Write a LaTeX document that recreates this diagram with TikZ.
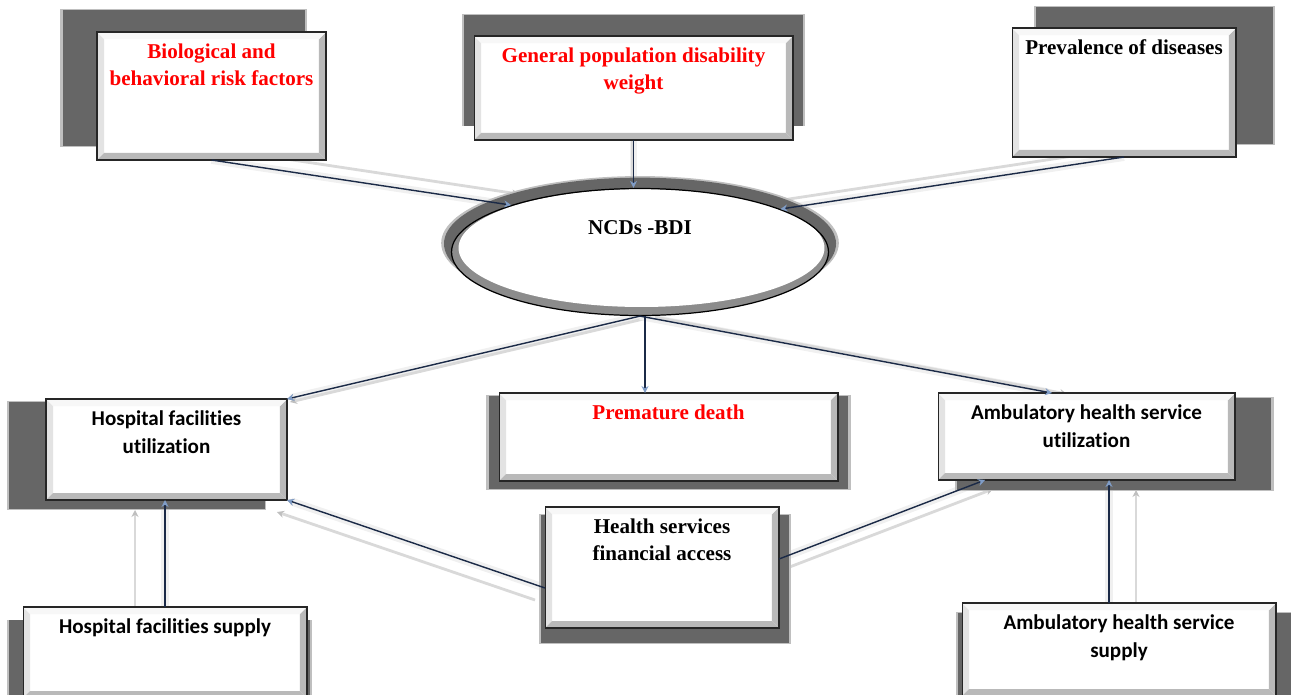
\documentclass[tikz,border=0pt]{standalone}
\usepackage{fontspec}
\setmainfont{Liberation Serif}
\newfontfamily\calfont[Ligatures=NoCommon]{Carlito}
\usetikzlibrary{shapes.geometric,shadows,arrows.meta,calc}

\definecolor{linknavy}{HTML}{1B2A47}
\definecolor{tipblue}{HTML}{7F9CC6}
\definecolor{rimgray}{HTML}{8C8C8C}

\pgfdeclarelayer{back}
\pgfsetlayers{back,main}

% top aligned text inside a box of fixed size
\newcommand{\boxtext}[3]{\parbox[c][#2][t]{#1}{\centering\vspace*{6.5pt}#3}}

\tikzset{
  bevelbox/.style={rectangle, draw=black!85, line width=0.6pt, fill=white,
    inner sep=0pt, outer sep=0pt,
    path picture={
      \coordinate (pnw) at (path picture bounding box.north west);
      \coordinate (pne) at (path picture bounding box.north east);
      \coordinate (psw) at (path picture bounding box.south west);
      \coordinate (pse) at (path picture bounding box.south east);
      \fill[gray!22] (pnw) -- (psw) -- ($(psw)+(0.14cm,0.14cm)$) -- ($(pnw)+(0.14cm,-0.14cm)$) -- cycle;
      \fill[gray!55] (pne) -- (pse) -- ($(pse)+(-0.14cm,0.14cm)$) -- ($(pne)+(-0.14cm,-0.14cm)$) -- cycle;
      \fill[gray!55] (psw) -- (pse) -- ($(pse)+(-0.14cm,0.14cm)$) -- ($(psw)+(0.14cm,0.14cm)$) -- cycle;
      \fill[gray!6] (pnw) -- (pne) -- ($(pne)+(-0.14cm,-0.14cm)$) -- ($(pnw)+(0.14cm,-0.14cm)$) -- cycle;
    }},
  boxshadow/.style 2 args={
    general shadow={shadow xshift=#1, shadow yshift=#2, shadow scale=1.075, fill=black!25},
    general shadow={shadow xshift=#1, shadow yshift=#2, shadow scale=1.06, fill=black!60}},
  serifred/.style={font=\bfseries\fontsize{12}{15.5}\selectfont, text=red},
  seriftxt/.style={font=\bfseries\fontsize{12}{15.5}\selectfont},
  caltxt/.style={font=\calfont\bfseries\fontsize{12}{16}\selectfont},
  link/.style={draw=linknavy, line width=0.8pt, -{Stealth[length=4pt,width=4pt,color=tipblue]}},
  glow/.style={draw=gray!30, line width=1.6pt, preaction={draw=gray!12, line width=4.5pt},
    -{Stealth[length=4pt,width=4pt,color=gray!50]}},
}

\begin{document}
\begin{tikzpicture}[x=0.02cm, y=-0.02cm]
\useasboundingbox (0,0) rectangle (1291,694);

% top row
\node[bevelbox, boxshadow={-0.52cm}{0.34cm}, serifred] (bio) at (211.5,96)
  {\boxtext{4.58cm}{2.56cm}{Biological and\\behavioral risk factors}};
\node[bevelbox, boxshadow={0cm}{0.33cm}, serifred] (gen) at (633.5,88)
  {\boxtext{6.38cm}{2.08cm}{General population disability\\weight}};
\node[bevelbox, boxshadow={0.57cm}{0.32cm}, seriftxt] (prev) at (1124,92.5)
  {\boxtext{4.48cm}{2.58cm}{Prevalence of diseases}};

% index
\node[ellipse, draw=black, line width=0.7pt, fill=rimgray, inner sep=0pt,
  minimum width=7.54cm, minimum height=2.54cm,
  general shadow={shadow yshift=0.17cm, shadow scale=1.055, fill=black!25},
  general shadow={shadow yshift=0.16cm, shadow scale=1.04, fill=black!60},
  path picture={\fill[white] ([shift={(0.03cm,0.08cm)}]path picture bounding box.center)
    ellipse [x radius=3.66cm, y radius=1.18cm];},
  seriftxt] (ncd) at (640,252) {\smash{\raisebox{0.36cm}{NCDs -BDI}}};

% middle row
\node[bevelbox, boxshadow={-0.56cm}{-0.11cm}, caltxt] (hospU) at (166.5,449.5)
  {\boxtext{4.82cm}{2.02cm}{Hospital facilities\\utilization}};
\node[bevelbox, boxshadow={0cm}{-0.1cm}, serifred] (prem) at (668.5,437)
  {\boxtext{6.78cm}{1.76cm}{Premature death}};
\node[bevelbox, boxshadow={0.52cm}{-0.14cm}, caltxt] (ambU) at (1086.5,436.5)
  {\boxtext{5.94cm}{1.74cm}{Ambulatory health service\\utilization}};

% bottom row
\node[bevelbox, boxshadow={0.06cm}{-0.22cm}, seriftxt] (fin) at (662,567.5)
  {\boxtext{4.68cm}{2.42cm}{Health services\\financial access}};
\node[bevelbox, boxshadow={-0.1cm}{-0.3cm}, caltxt] (hospS) at (165,652.5)
  {\boxtext{5.68cm}{1.82cm}{Hospital facilities supply}};
\node[bevelbox, boxshadow={0.1cm}{-0.24cm}, caltxt] (ambS) at (1119,649.5)
  {\boxtext{6.28cm}{1.86cm}{Ambulatory health service\\supply}};

% faded copies of the links
\begin{pgfonlayer}{back}
\draw[glow, transform canvas={shift={(0.16cm,0.22cm)}}] (bio.south) -- (ncd.160);
\draw[glow, transform canvas={shift={(-0.02cm,0.1cm)}}] (gen.south) -- (gen.south |- ncd.north);
\draw[glow, transform canvas={shift={(-0.1cm,0.16cm)}}] (prev.south) -- (ncd.17);
\draw[glow, transform canvas={shift={(0.06cm,-0.06cm)}}] (ncd.south) -- (hospU.north east);
\draw[glow, transform canvas={shift={(0.3cm,-0.02cm)}}] (ncd.south) -- ([xshift=-0.69cm]ambU.north);
\draw[glow, transform canvas={shift={(-0.2cm,-0.24cm)}}] ([yshift=-0.41cm]fin.west) -- (hospU.south east);
\draw[glow, transform canvas={shift={(0.16cm,-0.18cm)}}] ([yshift=0.17cm]fin.east) -- ([xshift=0.94cm]ambU.south west);
\draw[glow, transform canvas={shift={(-0.6cm,-0.2cm)}}] (hospS.north) -- (hospS.north |- hospU.south);
\draw[glow, transform canvas={shift={(0.54cm,-0.2cm)}}] ([xshift=-0.2cm]ambS.north) -- ([xshift=-0.2cm]ambS.north |- ambU.south);
\end{pgfonlayer}

% links
\draw[link] (bio.south) -- (ncd.160);
\draw[link] (gen.south) -- (gen.south |- ncd.north);
\draw[link] (prev.south) -- (ncd.17);
\draw[link] (ncd.south) -- (hospU.north east);
\draw[link] ([xshift=0.1cm]ncd.south) -- ([xshift=0.1cm]ncd.south |- prem.north);
\draw[link] (ncd.south) -- ([xshift=-0.69cm]ambU.north);
\draw[link] ([yshift=-0.41cm]fin.west) -- (hospU.south east);
\draw[link] ([yshift=0.17cm]fin.east) -- ([xshift=0.94cm]ambU.south west);
\draw[link] (hospS.north) -- (hospS.north |- hospU.south);
\draw[link] ([xshift=-0.2cm]ambS.north) -- ([xshift=-0.2cm]ambS.north |- ambU.south);

\end{tikzpicture}
\end{document}
